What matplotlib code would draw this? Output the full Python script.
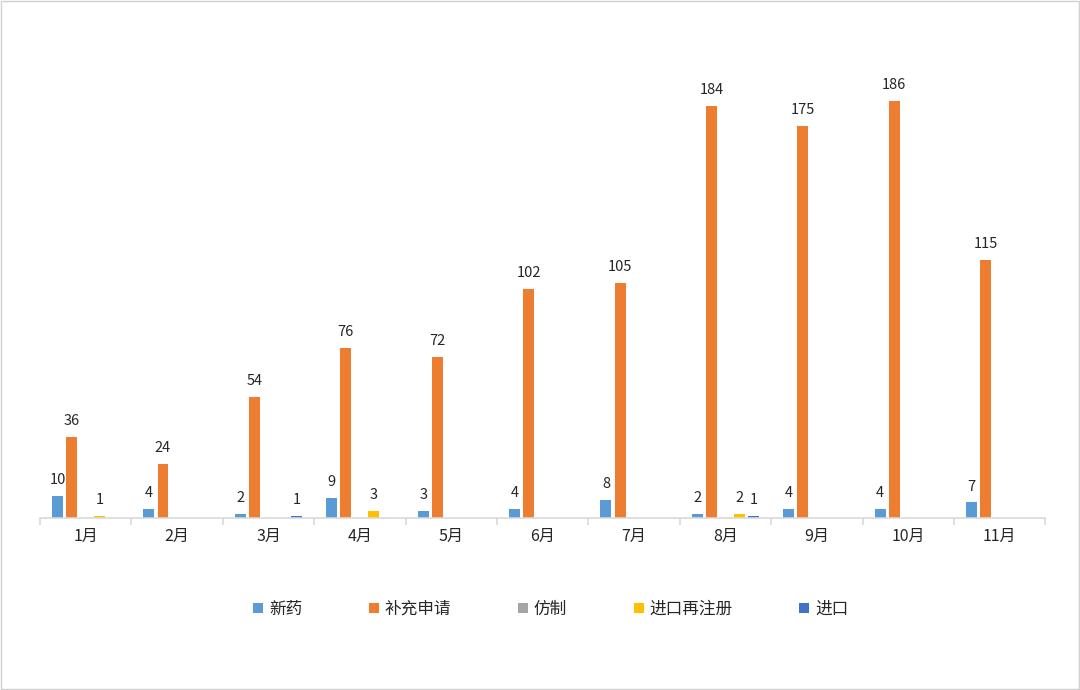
import matplotlib
matplotlib.use('Agg')
import matplotlib.pyplot as plt
import numpy as np

plt.rcParams['font.family'] = ['Noto Sans CJK SC', 'DejaVu Sans']

months = ['1月', '2月', '3月', '4月', '5月', '6月', '7月', '8月', '9月', '10月', '11月']
xinyao = [10, 4, 2, 9, 3, 4, 8, 2, 4, 4, 7]
buchong = [36, 24, 54, 76, 72, 102, 105, 184, 175, 186, 115]
fangzhi = [0, 0, 0, 0, 0, 0, 0, 0, 0, 0, 0]
zaizhuce = [1, 0, 0, 3, 0, 0, 0, 2, 0, 0, 0]
jinkou = [0, 0, 1, 0, 0, 0, 0, 1, 0, 0, 0]

series = [('新药', xinyao, '#5b9bd5'),
          ('补充申请', buchong, '#ed7d31'),
          ('仿制', fangzhi, '#a5a5a5'),
          ('进口再注册', zaizhuce, '#ffc000'),
          ('进口', jinkou, '#4472c4')]

fig = plt.figure(figsize=(10.8, 6.9), dpi=100)
ax = fig.add_axes([0.037, 0.249, 0.931, 0.65])

x = np.arange(len(months))
step = 0.154
w = 0.12
for i, (name, vals, col) in enumerate(series):
    pos = x + (i - 2) * step
    ax.bar(pos, vals, w, color=col, label=name)
    for p, v in zip(pos, vals):
        if v > 0:
            ax.text(p, v + 4, str(v), ha='center', va='bottom',
                    fontsize=10.5, fontweight='medium', color='#262626')

ax.set_xlim(-0.5, len(months) - 0.5)
ax.set_ylim(0, 200)
ax.set_yticks([])
for s in ['top', 'right', 'left']:
    ax.spines[s].set_visible(False)
ax.spines['bottom'].set_color('#d9d9d9')
ax.spines['bottom'].set_linewidth(1.2)
ax.set_xticks(x)
ax.set_xticklabels(months, fontsize=11.5, color='#262626')
ax.tick_params(axis='x', which='major', length=0, pad=7)
ax.set_xticks(np.arange(-0.5, len(months)), minor=True)
ax.tick_params(axis='x', which='minor', length=5, color='#d9d9d9', width=1.2)

fig.legend(loc='center', bbox_to_anchor=(0.51, 0.117), ncol=5, frameon=False,
           fontsize=12, handlelength=0.6, handleheight=0.6, handletextpad=0.35,
           columnspacing=4.0, labelcolor='#262626')

fig.patches.append(plt.Rectangle((0.001, 0.001), 0.998, 0.997, transform=fig.transFigure,
                                 fill=False, edgecolor='#d0d0d0', linewidth=1))

fig.savefig('out.png', dpi=100, facecolor='white')
